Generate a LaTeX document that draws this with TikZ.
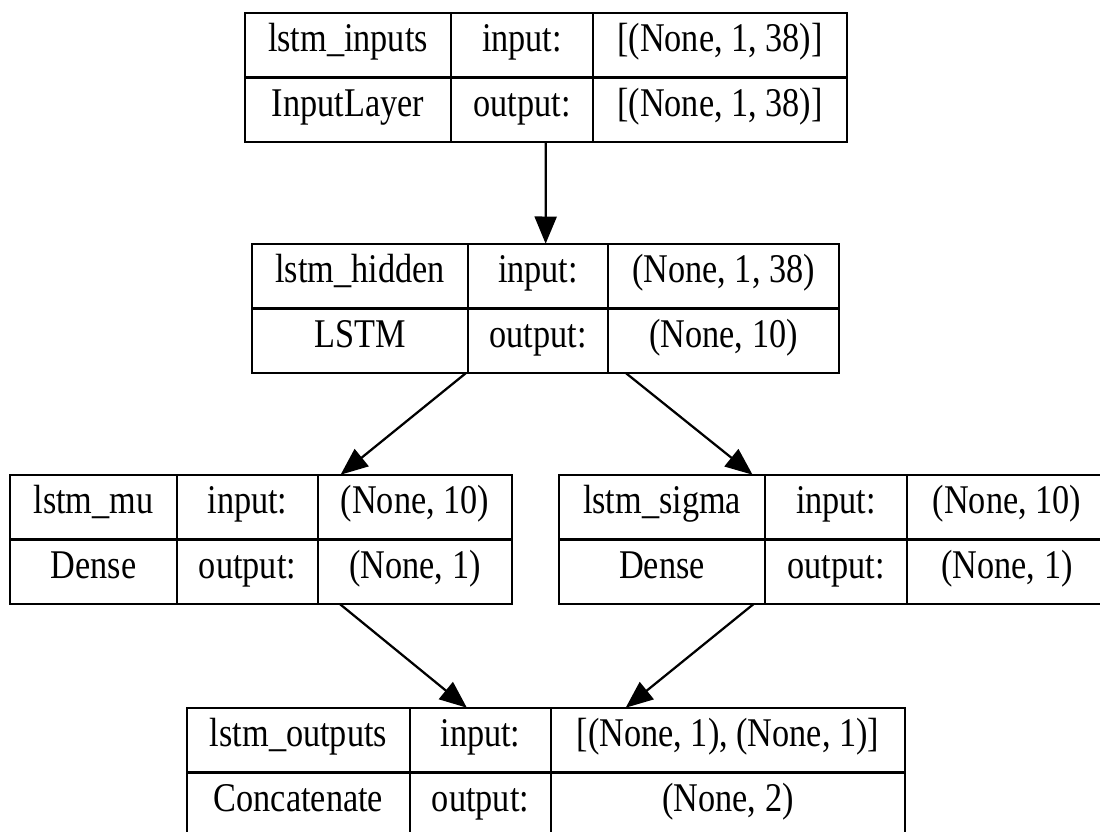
\documentclass[tikz,border=0pt]{standalone}
\usepackage{fontspec}
\setmainfont{Liberation Serif}[FakeStretch=0.84]
\usetikzlibrary{arrows.meta,positioning,fit}

\newlength{\px}
\setlength{\px}{0.025cm}

\begin{document}
\begin{tikzpicture}[
  x=0.025cm, y=-0.025cm,
  font=\fontsize{29}{34}\selectfont,
  cell/.style={draw, line width=1.6pt, outer sep=0pt, inner sep=0pt, minimum height=64.5\px, text height=0.92em, text depth=0em},
  link/.style={-{Triangle[length=0.68cm, width=0.55cm]}, line width=1.6pt}
]
\clip (0,0) rectangle (1100,832);
\fill[white] (0,0) rectangle (1100,832);

% input layer
\node[cell, minimum width=206\px, anchor=north west] (inputsName) at (245,13) {lstm\_inputs};
\node[cell, minimum width=142\px, right=0pt of inputsName] (inputsIn) {input:};
\node[cell, minimum width=254\px, right=0pt of inputsIn] (inputsInShape) {[(None, 1, 38)]};
\node[cell, minimum width=206\px, below=0pt of inputsName] (inputsType) {InputLayer};
\node[cell, minimum width=142\px, right=0pt of inputsType] (inputsOut) {output:};
\node[cell, minimum width=254\px, right=0pt of inputsOut] (inputsOutShape) {[(None, 1, 38)]};
\node[fit=(inputsName)(inputsOutShape), inner sep=0pt] (inputs) {};

% lstm layer
\node[cell, minimum width=216\px, anchor=north west] (hiddenName) at (252,244) {lstm\_hidden};
\node[cell, minimum width=140\px, right=0pt of hiddenName] (hiddenIn) {input:};
\node[cell, minimum width=231\px, right=0pt of hiddenIn] (hiddenInShape) {(None, 1, 38)};
\node[cell, minimum width=216\px, below=0pt of hiddenName] (hiddenType) {LSTM};
\node[cell, minimum width=140\px, right=0pt of hiddenType] (hiddenOut) {output:};
\node[cell, minimum width=231\px, right=0pt of hiddenOut] (hiddenOutShape) {(None, 10)};
\node[fit=(hiddenName)(hiddenOutShape), inner sep=0pt] (hidden) {};

% dense heads
\node[cell, minimum width=167\px, anchor=north west] (muName) at (10,475) {lstm\_mu};
\node[cell, minimum width=141\px, right=0pt of muName] (muIn) {input:};
\node[cell, minimum width=194\px, right=0pt of muIn] (muInShape) {(None, 10)};
\node[cell, minimum width=167\px, below=0pt of muName] (muType) {Dense};
\node[cell, minimum width=141\px, right=0pt of muType] (muOut) {output:};
\node[cell, minimum width=194\px, right=0pt of muOut] (muOutShape) {(None, 1)};
\node[fit=(muName)(muOutShape), inner sep=0pt] (mu) {};

\node[cell, minimum width=206\px, anchor=north west] (sigmaName) at (559,475) {lstm\_sigma};
\node[cell, minimum width=142\px, right=0pt of sigmaName] (sigmaIn) {input:};
\node[cell, minimum width=200\px, right=0pt of sigmaIn] (sigmaInShape) {(None, 10)};
\node[cell, minimum width=206\px, below=0pt of sigmaName] (sigmaType) {Dense};
\node[cell, minimum width=142\px, right=0pt of sigmaType] (sigmaOut) {output:};
\node[cell, minimum width=200\px, right=0pt of sigmaOut] (sigmaOutShape) {(None, 1)};
\node[fit=(sigmaName)(sigmaOutShape), inner sep=0pt] (sigma) {};

% concatenation
\node[cell, minimum width=223\px, anchor=north west] (outputsName) at (187,708) {lstm\_outputs};
\node[cell, minimum width=141\px, right=0pt of outputsName] (outputsIn) {input:};
\node[cell, minimum width=354\px, right=0pt of outputsIn] (outputsInShape) {[(None, 1), (None, 1)]};
\node[cell, minimum width=223\px, below=0pt of outputsName] (outputsType) {Concatenate};
\node[cell, minimum width=141\px, right=0pt of outputsType] (outputsOut) {output:};
\node[cell, minimum width=354\px, right=0pt of outputsOut] (outputsOutShape) {(None, 2)};
\node[fit=(outputsName)(outputsOutShape), inner sep=0pt] (outputs) {};

\draw[link] (inputs) -- (hidden);
\draw[link] (hidden) -- (mu);
\draw[link] (hidden) -- (sigma);
\draw[link] (mu) -- (outputs);
\draw[link] (sigma) -- (outputs);
\end{tikzpicture}
\end{document}
